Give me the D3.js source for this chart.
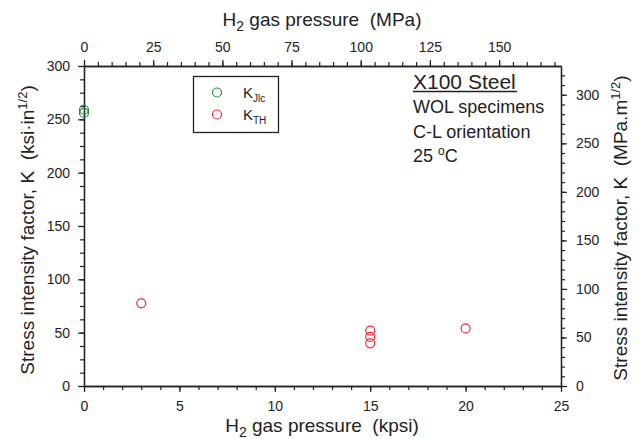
<!DOCTYPE html>
<html>
<head>
<meta charset="utf-8">
<script src="https://cdn.jsdelivr.net/npm/d3@7"></script>
<style>
  body { margin: 0; background: #fff; }
  text { font-family: "Liberation Sans", Arial, sans-serif; fill: #222; }
</style>
</head>
<body>
<div id="canvas"></div>
<script>
// data
const kjicPressure = [0, 0];
const kjicK = [256, 259];
const kthPressure = [3, 15, 15, 15, 20];
const kthK = [77.5, 52, 46, 40, 54];

const xTicks = [0, 5, 10, 15, 20, 25];
const xTopTicks = [0, 25, 50, 75, 100, 125, 150];
const yTicks = [0, 50, 100, 150, 200, 250, 300];
const yRightTicks = [0, 50, 100, 150, 200, 250, 300];

const legendNames = ["Jlc", "TH"];
const legendColors = ["#23913f", "#ee2a35"];
const noteLines = ["WOL specimens", "C-L orientation"];

const KPSI_TO_MPA = 6.894757;
const KSI_TO_MPA = 1.098843;

const width = 639;
const height = 439;
const margin = { top: 66, left: 84, bottom: 53, right: 78 };
const iwidth = width - margin.left - margin.right;
const iheight = height - margin.top - margin.bottom;

const svg = d3.select("#canvas").append("svg")
  .attr("width", width)
  .attr("height", height);

const g = svg.append("g")
  .attr("transform", `translate(${margin.left},${margin.top})`);

const x = d3.scaleLinear().domain([0, 25]).range([0, iwidth]);
const xTop = d3.scaleLinear().domain([0, 25 * KPSI_TO_MPA]).range([0, iwidth]);
const y = d3.scaleLinear().domain([0, 300]).range([iheight, 0]);
const yRight = d3.scaleLinear().domain([0, 300 * KSI_TO_MPA]).range([iheight, 0]);

function styleAxis(sel) {
  sel.selectAll("path").attr("stroke", "#222").attr("stroke-width", 1.3);
  sel.selectAll("line").attr("stroke", "#222").attr("stroke-width", 1.2);
  sel.selectAll("text").style("font-size", "14px").attr("fill", "#222")
    .style("font-family", "'Liberation Sans', Arial, sans-serif");
}

// minor ticks first
g.append("g").attr("transform", `translate(0,${iheight})`)
  .call(d3.axisBottom(x).tickValues(d3.range(0, 26, 1)).tickSize(4).tickFormat("").tickSizeOuter(0))
  .call(styleAxis);
g.append("g")
  .call(d3.axisTop(xTop).tickValues(d3.range(0, 171, 5)).tickSize(4).tickFormat("").tickSizeOuter(0))
  .call(styleAxis);
g.append("g")
  .call(d3.axisLeft(y).tickValues(d3.range(0, 301, 12.5)).tickSize(4).tickFormat("").tickSizeOuter(0))
  .call(styleAxis);
g.append("g").attr("transform", `translate(${iwidth},0)`)
  .call(d3.axisRight(yRight).tickValues(d3.range(0, 330, 10)).tickSize(4).tickFormat("").tickSizeOuter(0))
  .call(styleAxis);

// major ticks with labels
g.append("g").attr("transform", `translate(0,${iheight})`)
  .call(d3.axisBottom(x).tickValues(xTicks).tickSize(6).tickPadding(9).tickSizeOuter(0))
  .call(styleAxis);
g.append("g")
  .call(d3.axisTop(xTop).tickValues(xTopTicks).tickSize(6).tickPadding(8).tickSizeOuter(0))
  .call(styleAxis);
g.append("g")
  .call(d3.axisLeft(y).tickValues(yTicks).tickSize(6).tickPadding(8).tickSizeOuter(0))
  .call(styleAxis);
g.append("g").attr("transform", `translate(${iwidth},0)`)
  .call(d3.axisRight(yRight).tickValues(yRightTicks).tickSize(6).tickPadding(9).tickSizeOuter(0))
  .call(styleAxis);

// data markers
g.selectAll("circle.kjic")
  .data(kjicPressure.map((p, i) => ({ p: p, k: kjicK[i] })))
  .enter().append("circle")
  .attr("class", "kjic")
  .attr("cx", (d) => x(d.p))
  .attr("cy", (d) => y(d.k))
  .attr("r", 4.5)
  .attr("fill", "none")
  .attr("stroke", legendColors[0])
  .attr("stroke-width", 1.2);

g.selectAll("circle.kth")
  .data(kthPressure.map((p, i) => ({ p: p, k: kthK[i] })))
  .enter().append("circle")
  .attr("class", "kth")
  .attr("cx", (d) => x(d.p))
  .attr("cy", (d) => y(d.k))
  .attr("r", 4.5)
  .attr("fill", "none")
  .attr("stroke", legendColors[1])
  .attr("stroke-width", 1.2);

// axis titles
function gasTitle(yPos, unit) {
  const t = svg.append("text")
    .attr("x", 322).attr("y", yPos)
    .attr("text-anchor", "middle")
    .style("font-size", "19px");
  t.append("tspan").text("H");
  t.append("tspan").attr("dy", 5).style("font-size", "14px").text("2");
  t.append("tspan").attr("dy", -5).text(`\u00a0gas pressure\u00a0\u00a0(${unit})`);
}
gasTitle(26, "MPa");
gasTitle(432, "kpsi");

function kTitle(xPos, yPos, unit) {
  const t = svg.append("text")
    .attr("transform", `translate(${xPos},${yPos}) rotate(-90)`)
    .attr("text-anchor", "middle")
    .style("font-size", "19px");
  t.append("tspan").text(`Stress intensity factor, K\u00a0\u00a0(${unit}`);
  t.append("tspan").attr("dy", -7).style("font-size", "13px").text("1/2");
  t.append("tspan").attr("dy", 7).text(")");
}
kTitle(34, 230, "ksi\u00b7in");
kTitle(627, 228, "MPa.m");

// legend
const legend = svg.append("g");
legend.append("rect")
  .attr("x", 193.5).attr("y", 76.5)
  .attr("width", 85).attr("height", 56)
  .attr("fill", "#fff").attr("stroke", "#222").attr("stroke-width", 1.3);
legendNames.forEach((name, i) => {
  const cy = 92.5 + i * 22;
  legend.append("circle")
    .attr("cx", 217).attr("cy", cy).attr("r", 4.5)
    .attr("fill", "none").attr("stroke", legendColors[i]).attr("stroke-width", 1.2);
  const t = legend.append("text").attr("x", 243).attr("y", cy + 5).style("font-size", "15px");
  t.append("tspan").text("K");
  t.append("tspan").attr("dy", 4).style("font-size", "10px").text(name);
});

// annotation
svg.append("text")
  .attr("x", 413).attr("y", 89)
  .style("font-size", "21px")
  .text("X100 Steel");
svg.append("line")
  .attr("x1", 413).attr("x2", 517)
  .attr("y1", 91.5).attr("y2", 91.5)
  .attr("stroke", "#222").attr("stroke-width", 1.3);
noteLines.forEach((line, i) => {
  svg.append("text")
    .attr("x", 413).attr("y", 113 + i * 25)
    .style("font-size", "18px")
    .text(line);
});
const tc = svg.append("text").attr("x", 413).attr("y", 162).style("font-size", "18px");
tc.append("tspan").text("25 ");
tc.append("tspan").attr("dy", -7).style("font-size", "12px").text("o");
tc.append("tspan").attr("dy", 7).text("C");
</script>
</body>
</html>
